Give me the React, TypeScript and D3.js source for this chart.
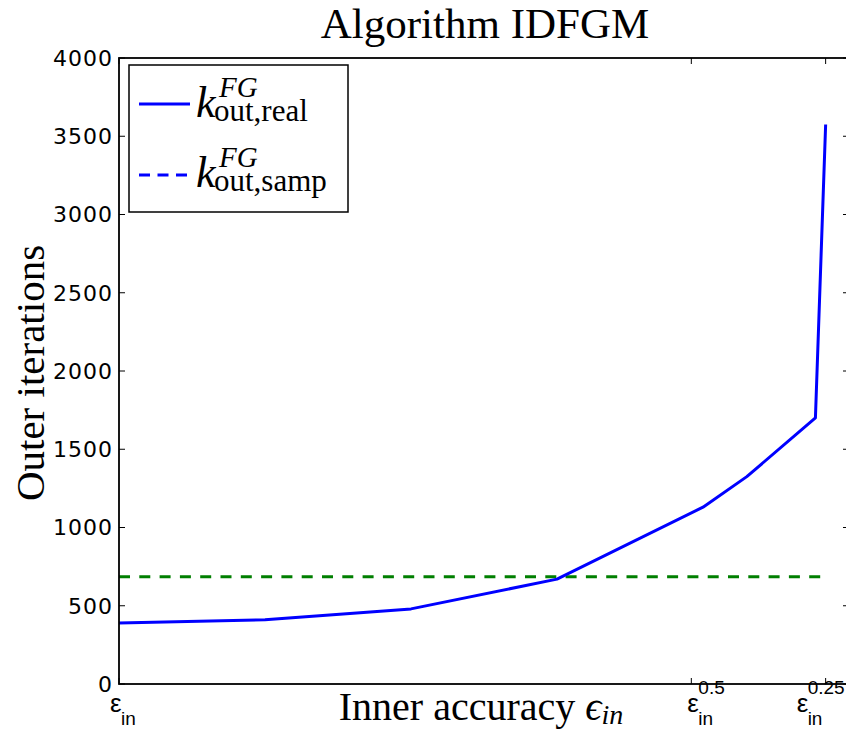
import React from "react";
import * as d3 from "d3";

// Inner-accuracy levels on the horizontal axis (eps_in ... eps_in^0.25)
const levels = [0, 1, 2, 3, 4, 4.3, 4.77, 4.84];
// Measured number of outer iterations at each level
const outerReal = [390, 410, 480, 670, 1130, 1325, 1700, 3575];
// Sampled (theoretical) bound on outer iterations
const outerSamp = 686;
const sampSpan = [0, 4.84];

const yTicks = [0, 500, 1000, 1500, 2000, 2500, 3000, 3500, 4000];
const xTickPos = [0, 3.92, 4.84];
const xTickExp = ["", "0.5", "0.25"];

const serif = "'Liberation Serif', 'DejaVu Serif', serif";
const sans = "'DejaVu Sans', sans-serif";
const narrow = "'Liberation Sans Narrow', 'Liberation Sans', Arial, sans-serif";

// horizontal shift of each tick label's epsilon relative to its tick
const labelShift = [-9, -4, -29];

export default function App() {
  const W = 846;
  const H = 730;
  const left = 119;
  const right = 849;
  const top = 58;
  const bottom = 684;

  const x = d3.scaleLinear().domain([0, 5]).range([left, right]);
  const y = d3.scaleLinear().domain([0, 4000]).range([bottom, top]);

  const realPath =
    d3
      .line<number>()
      .x((_, i) => x(levels[i]))
      .y((d) => y(d))(outerReal) || "";

  const sampPath =
    d3
      .line<number>()
      .x((d) => x(d))
      .y(() => y(outerSamp))(sampSpan) || "";

  const dash = "11 9.3";

  return (
    <svg
      width={W}
      height={H}
      style={{ position: "absolute", left: 0, top: 0 }}
    >
      <rect x={0} y={0} width={W} height={H} fill="#fff" />

      {/* title */}
      <text
        x={485}
        y={38}
        textAnchor="middle"
        fontFamily={serif}
        fontSize={43}
        fill="#000"
      >
        Algorithm IDFGM
      </text>

      {/* data */}
      <path d={sampPath} fill="none" stroke="#007f00" strokeWidth={3} strokeDasharray={dash} />
      <path d={realPath} fill="none" stroke="#0000ff" strokeWidth={3} strokeLinejoin="round" />

      {/* frame */}
      <rect
        x={left}
        y={top}
        width={right - left}
        height={bottom - top}
        fill="none"
        stroke="#000"
        strokeWidth={1.8}
      />

      {/* y ticks */}
      {yTicks.map((t) => (
        <g key={`y${t}`}>
          <line x1={left} x2={left + 6} y1={y(t)} y2={y(t)} stroke="#000" strokeWidth={1} />
          <line x1={right - 6} x2={right} y1={y(t)} y2={y(t)} stroke="#000" strokeWidth={1} />
          <text
            x={left - 6}
            y={y(t)}
            dy="0.36em"
            textAnchor="end"
            fontFamily={sans}
            fontSize={22}
            letterSpacing={1}
            fill="#000"
          >
            {t}
          </text>
        </g>
      ))}

      {/* x ticks */}
      {xTickPos.map((p, i) => (
        <g key={`x${i}`}>
          <line x1={x(p)} x2={x(p)} y1={bottom} y2={bottom - 6} stroke="#000" strokeWidth={1} />
          <line x1={x(p)} x2={x(p)} y1={top} y2={top + 6} stroke="#000" strokeWidth={1} />
          <g transform={`translate(${x(p) + labelShift[i]},0)`}>
            <text x={0} y={712} fontFamily={narrow} fontSize={26} fill="#000">
              ε
            </text>
            <text x={11} y={725} fontFamily={narrow} fontSize={19} fill="#000">
              in
            </text>
            {xTickExp[i] && (
              <text x={11} y={694} fontFamily={narrow} fontSize={19} fill="#000">
                {xTickExp[i]}
              </text>
            )}
          </g>
        </g>
      ))}

      {/* axis titles */}
      <text
        transform="translate(44,373) rotate(-90)"
        textAnchor="middle"
        fontFamily={serif}
        fontSize={41}
        fill="#000"
      >
        Outer iterations
      </text>
      <text x={481} y={720} textAnchor="middle" fontFamily={serif} fontSize={40} fill="#000">
        Inner accuracy{" "}
        <tspan fontStyle="italic">ϵ</tspan>
        <tspan fontStyle="italic" fontSize={28} dy={4}>
          in
        </tspan>
      </text>

      {/* legend */}
      <rect x={129} y={65} width={219} height={147} fill="#fff" stroke="#000" strokeWidth={1.5} />
      <line x1={139} x2={190} y1={104} y2={104} stroke="#0000ff" strokeWidth={3} />
      <line x1={139} x2={190} y1={175} y2={175} stroke="#0000ff" strokeWidth={3} strokeDasharray="11 7.5" />
      {[
        { base: 117, sub: "out,real" },
        { base: 187, sub: "out,samp" },
      ].map((e) => (
        <g key={e.sub}>
          <text x={196} y={e.base} fontFamily={serif} fontStyle="italic" fontSize={44} fill="#000">
            k
          </text>
          <text x={219} y={e.base - 20} fontFamily={serif} fontStyle="italic" fontSize={29} fill="#000">
            FG
          </text>
          <text x={214} y={e.base + 4} fontFamily={serif} fontSize={31} fill="#000">
            {e.sub}
          </text>
        </g>
      ))}
    </svg>
  );
}
